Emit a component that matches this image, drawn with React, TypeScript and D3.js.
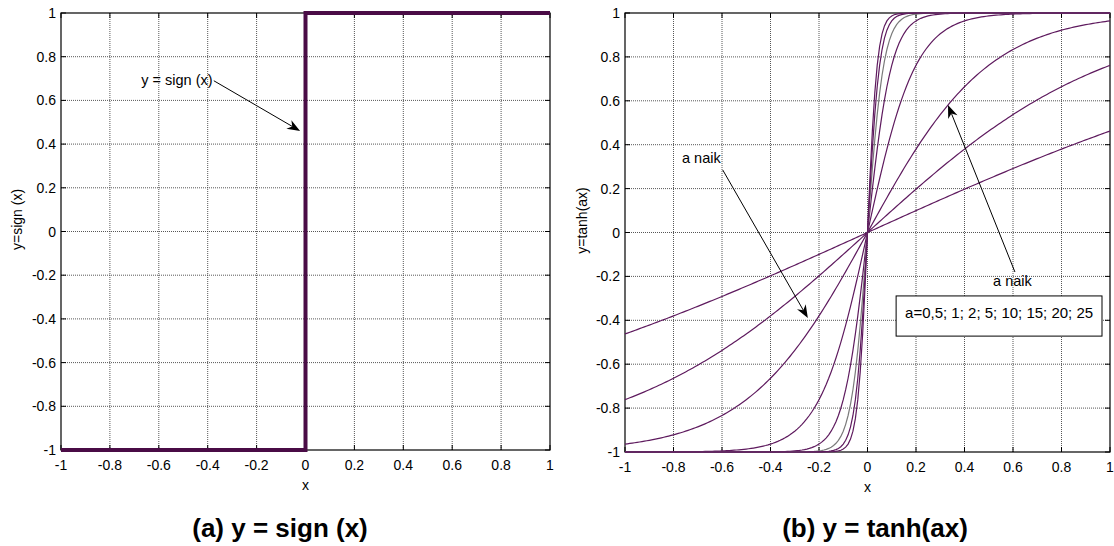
import React from 'react';
import * as d3 from 'd3';

// tick values shared by both panels
const xTicks = [-1, -0.8, -0.6, -0.4, -0.2, 0, 0.2, 0.4, 0.6, 0.8, 1];
const yTicks = [-1, -0.8, -0.6, -0.4, -0.2, 0, 0.2, 0.4, 0.6, 0.8, 1];

// panel (a): y = sign(x)
const signX = [-1, 0, 0, 1];
const signY = [-1, -1, 1, 1];

// panel (b): y = tanh(ax), one curve per a
const aValues = [0.5, 1, 2, 5, 10, 15, 20, 25];
const curveColors = ['#5e1a5e', '#5e1a5e', '#5e1a5e', '#5e1a5e', '#5e1a5e', '#7a7a7a', '#5e1a5e', '#5e1a5e'];
const sampleX = d3.range(-1, 1.0001, 0.01);

const FONT = '"Liberation Sans", Arial, Helvetica, sans-serif';

type Arrow = { x0: number; y0: number; x1: number; y1: number };

const ArrowMark = ({ a, sx, sy }: { a: Arrow; sx: any; sy: any }) => {
  const X0 = sx(a.x0), Y0 = sy(a.y0), X1 = sx(a.x1), Y1 = sy(a.y1);
  const ang = Math.atan2(Y1 - Y0, X1 - X0);
  const L = 13, W = 5;
  const bx = X1 - L * Math.cos(ang), by = Y1 - L * Math.sin(ang);
  const nx = -Math.sin(ang), ny = Math.cos(ang);
  const mx = X1 - L * 0.7 * Math.cos(ang), my = Y1 - L * 0.7 * Math.sin(ang);
  const head = `M${X1},${Y1}L${bx + nx * W},${by + ny * W}L${mx},${my}L${bx - nx * W},${by - ny * W}Z`;
  return (
    <g>
      <line x1={X0} y1={Y0} x2={mx} y2={my} stroke="#000" strokeWidth={1} />
      <path d={head} fill="#000" />
    </g>
  );
};

const Frame = ({ sx, sy, xlabel, ylabel, ylabelX }: any) => {
  const [x0, x1] = sx.range();
  const [y0, y1] = sy.range(); // y0 bottom, y1 top
  return (
    <g fontFamily={FONT} fontSize={14}>
      {/* grid */}
      {xTicks.slice(1, -1).map(t => (
        <line key={'gx' + t} x1={sx(t)} x2={sx(t)} y1={y1} y2={y0} stroke="#444" strokeWidth={0.9} strokeDasharray="1 1" />
      ))}
      {yTicks.slice(1, -1).map(t => (
        <line key={'gy' + t} x1={x0} x2={x1} y1={sy(t)} y2={sy(t)} stroke="#444" strokeWidth={0.9} strokeDasharray="1 1" />
      ))}
      {/* box */}
      <rect x={x0} y={y1} width={x1 - x0} height={y0 - y1} fill="none" stroke="#000" strokeWidth={1.2} />
      {/* ticks inward */}
      {xTicks.map(t => (
        <g key={'tx' + t}>
          <line x1={sx(t)} x2={sx(t)} y1={y0} y2={y0 - 5} stroke="#000" />
          <line x1={sx(t)} x2={sx(t)} y1={y1} y2={y1 + 5} stroke="#000" />
          <text x={sx(t)} y={y0 + 20} textAnchor="middle">{String(t)}</text>
        </g>
      ))}
      {yTicks.map(t => (
        <g key={'ty' + t}>
          <line x1={x0} x2={x0 + 5} y1={sy(t)} y2={sy(t)} stroke="#000" />
          <line x1={x1} x2={x1 - 5} y1={sy(t)} y2={sy(t)} stroke="#000" />
          <text x={x0 - 5} y={sy(t) + 5} textAnchor="end">{String(t)}</text>
        </g>
      ))}
      <text x={(x0 + x1) / 2} y={y0 + 40} textAnchor="middle">{xlabel}</text>
      <text transform={`translate(${ylabelX},${(y0 + y1) / 2 - 12}) rotate(-90)`} textAnchor="middle">{ylabel}</text>
    </g>
  );
};

const App = () => {
  // panel (a)
  const ax = d3.scaleLinear().domain([-1, 1]).range([61, 550]);
  const ay = d3.scaleLinear().domain([-1, 1]).range([450, 13]);
  // panel (b)
  const bx = d3.scaleLinear().domain([-1, 1]).range([625, 1110]);
  const by = d3.scaleLinear().domain([-1, 1]).range([452, 13]);

  const signLine = d3.line<number>().x((d, i) => ax(signX[i])).y((d, i) => ay(signY[i]));
  const tanhLine = (a: number) =>
    d3.line<number>().x(d => bx(d)).y(d => by(Math.tanh(a * d)))(sampleX) as string;

  return (
    <svg width={1114} height={546} style={{ position: 'absolute', left: 0, top: 0, background: '#fff' }}>
      <rect width={1114} height={546} fill="#fff" />
      {/* (a) */}
      <Frame sx={ax} sy={ay} xlabel="x" ylabel="y=sign (x)" ylabelX={22} />
      <path d={signLine(signX) as string} fill="none" stroke="#4a0c46" strokeWidth={4} strokeLinejoin="miter" />
      <text x={ax(-0.38)} y={ay(0.67)} textAnchor="end" fontFamily={FONT} fontSize={14.5}>y = sign (x)</text>
      <ArrowMark a={{ x0: -0.375, y0: 0.69, x1: -0.022, y1: 0.46 }} sx={ax} sy={ay} />
      <text x={280} y={537} textAnchor="middle" fontFamily={FONT} fontSize={26} fontWeight="bold">(a) y = sign (x)</text>

      {/* (b) */}
      <Frame sx={bx} sy={by} xlabel="x" ylabel="y=tanh(ax)" ylabelX={587} />
      <g fill="none" strokeWidth={1.2}>
        {aValues.map((a, i) => (
          <path key={a} d={tanhLine(a)} stroke={curveColors[i]} />
        ))}
      </g>
      <g fontFamily={FONT} fontSize={14.5}>
        <text x={bx(-0.765)} y={by(0.317)}>a naik</text>
        <text x={bx(0.518)} y={by(-0.244)}>a naik</text>
        <rect x={bx(0.118)} y={by(-0.289)} width={bx(0.967) - bx(0.118)} height={by(-0.472) - by(-0.289)} fill="#fff" stroke="#000" strokeWidth={1} />
        <text x={bx(0.155)} y={by(-0.39)} fontSize={15}>a=0,5; 1; 2; 5; 10; 15; 20; 25</text>
      </g>
      <ArrowMark a={{ x0: -0.597, y0: 0.285, x1: -0.246, y1: -0.39 }} sx={bx} sy={by} />
      <ArrowMark a={{ x0: 0.608, y0: -0.18, x1: 0.332, y1: 0.581 }} sx={bx} sy={by} />
      <text x={875} y={537} textAnchor="middle" fontFamily={FONT} fontSize={26} fontWeight="bold">(b) y = tanh(ax)</text>
    </svg>
  );
};

export default App;
